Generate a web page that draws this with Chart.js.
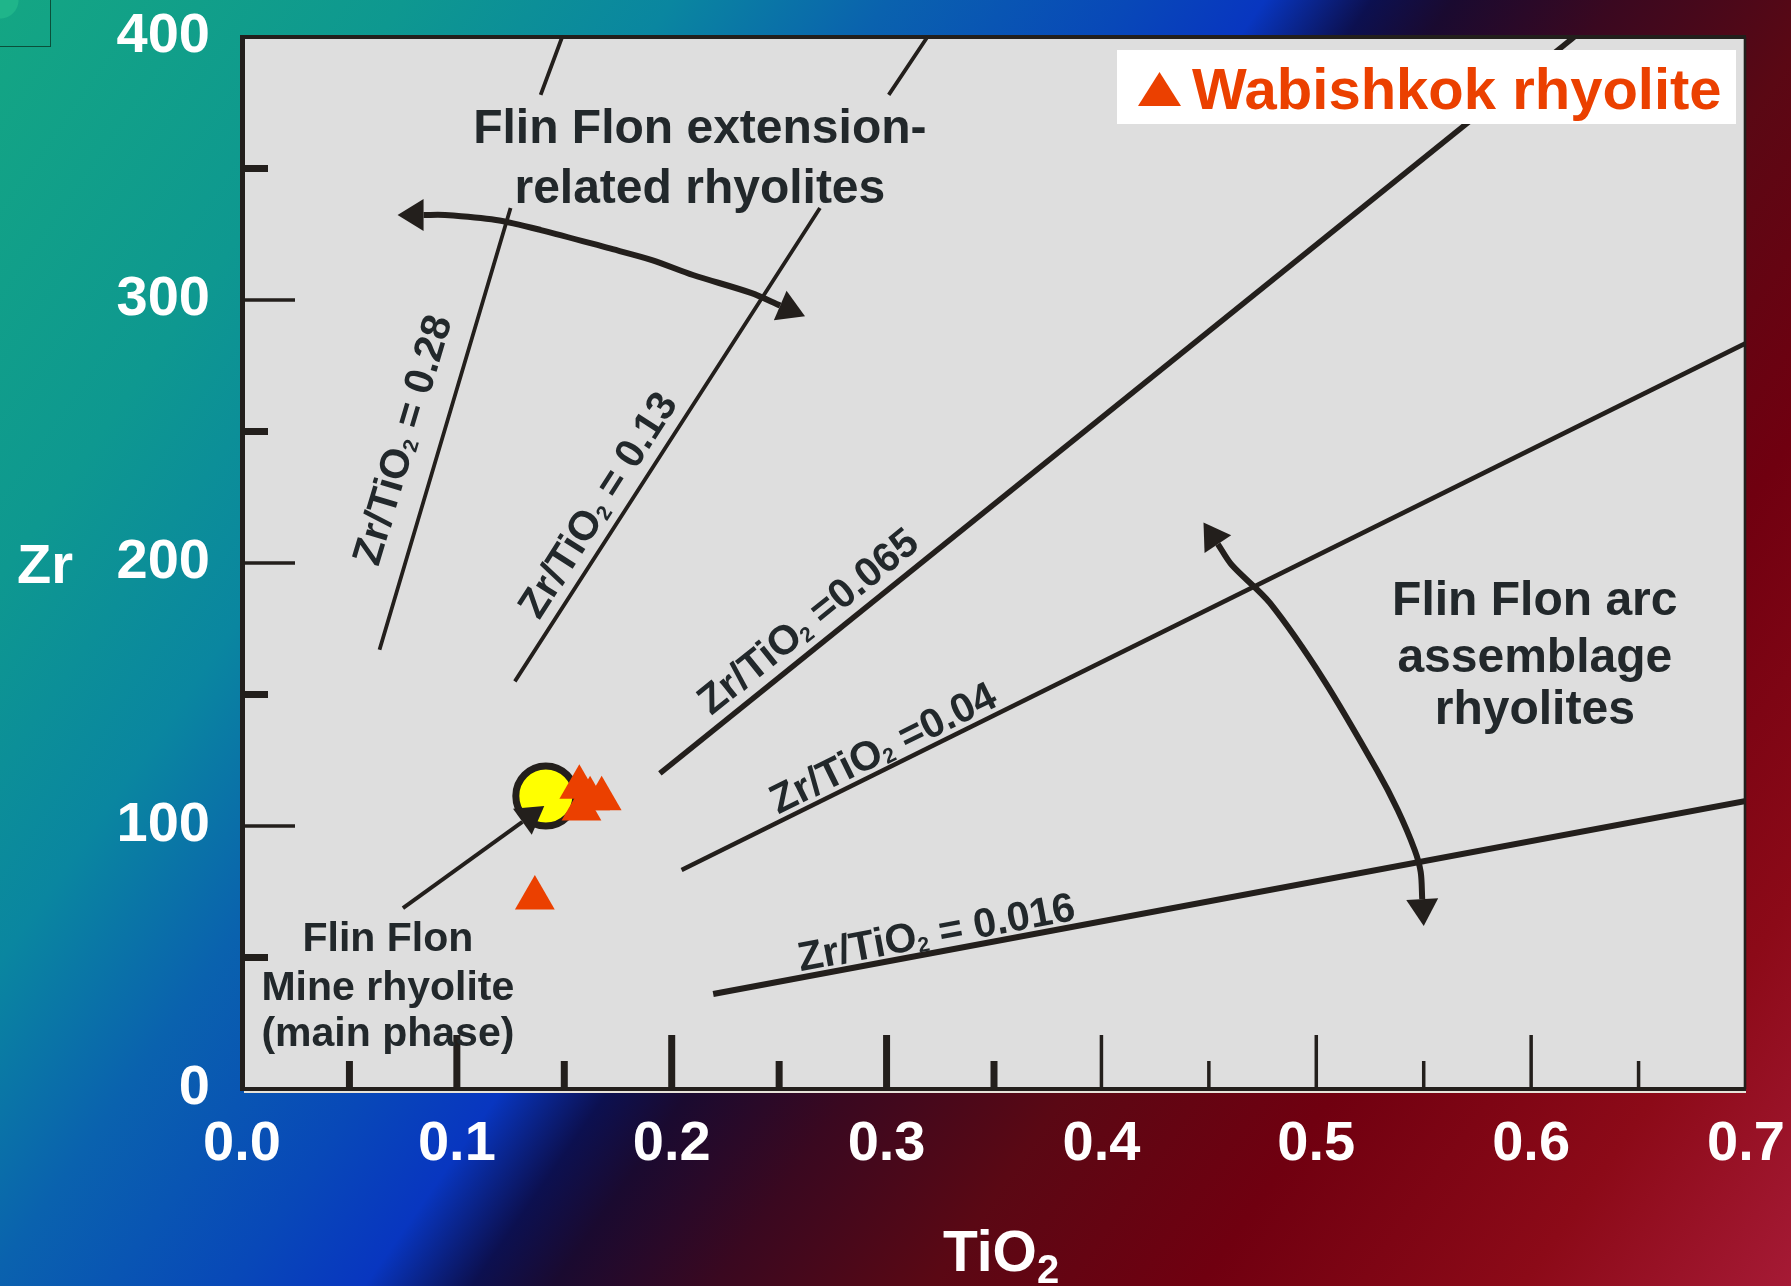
<!DOCTYPE html>
<html>
<head>
<meta charset="utf-8">
<title>Zr vs TiO2 - Wabishkok rhyolite</title>
<script src="https://cdn.jsdelivr.net/npm/chart.js@4.4.1/dist/chart.umd.min.js"></script>
<style>
  html, body { margin: 0; padding: 0; }
  body {
    width: 1791px; height: 1286px; overflow: hidden; position: relative;
    background: linear-gradient(125deg, #14a683 0%, #0e9890 15%, #0a86a0 25%, #0a62ae 33%, #0848b8 42%, #0836c0 47%, #0c1050 51%, #1a0a30 54%, #3a0820 60%, #5a0814 68%, #700010 78%, #8c0a18 90%, #a51a35 100%);
  }
  #corner {
    position: absolute; left: -1px; top: -1px; width: 50px; height: 46px;
    border: 1px solid #0b4f3a;
    background: radial-gradient(circle at 0 0, #1fb58a 0, #1fb58a 18px, transparent 19px);
  }
  canvas { position: absolute; left: 0; top: 0; }
</style>
</head>
<body>
<div id="corner"></div>
<canvas id="c" width="1791" height="1286"></canvas>
<script>
const FONT = '"Liberation Sans", Arial, Helvetica, sans-serif';
const INK = '#231f1c';
const TEXT = '#22282b';

// ticks
const xMajorTicks = [0, 0.1, 0.2, 0.3, 0.4, 0.5, 0.6, 0.7];
const xMinorTicks = [0.05, 0.15, 0.25, 0.35, 0.45, 0.55, 0.65];
const yMajorTicks = [0, 100, 200, 300, 400];
const yMinorTicks = [50, 150, 250, 350];

// Zr/TiO2 reference lines, [TiO2, Zr]; a null Zr leaves a gap under the text
const line028 = [[0.064, 167], [0.125, 335], [0.132, null], [0.139, 378], [0.149, 400]];
const line013 = [[0.127, 155], [0.269, 335], [0.285, null], [0.301, 378], [0.319, 400]];
const line0065 = [[0.1945, 120], [0.62, 400]];
const line004 = [[0.2046, 83.3], [0.7, 283.6]];
const line0016 = [[0.2193, 36.1], [0.7, 109.5]];
const ratioLabels = ['Zr/TiO2 = 0.28', 'Zr/TiO2 = 0.13', 'Zr/TiO2 =0.065', 'Zr/TiO2 =0.04', 'Zr/TiO2 = 0.016'];
const ratioLabelTiO2 = [0.074, 0.165, 0.263, 0.298, 0.323];
const ratioLabelZr = [247, 222.4, 178.3, 130.2, 60.1];

// samples
const wabishkokTiO2 = [0.1363, 0.157, 0.162, 0.1674, 0.158];
const wabishkokZr = [72.6, 114.7, 110.4, 110.4, 106.5];
const mineTiO2 = [0.1414];
const mineZr = [111.4];

// trend arrows (line ends where the arrow head starts)
const extensionArrow = [[0.0845, 332.3], [0.0945, 332.3], [0.1182, 330.4], [0.1391, 326.6], [0.1703, 319.8],
  [0.1908, 315.2], [0.2099, 309.5], [0.2369, 302.7], [0.2505, 297.9]];
const arcArrow = [[0.4542, 207.2], [0.4607, 199.2], [0.4784, 184.8], [0.5035, 155.5], [0.5282, 121.3],
  [0.5379, 106.1], [0.5458, 90.9], [0.5486, 82.5], [0.5493, 72.2]];
const mineArrow = [[0.0749, 68.8], [0.1305, 101.6]];

// annotation blocks: lines, TiO2 centre, Zr baselines
const extensionText = ['Flin Flon extension-', 'related rhyolites'];
const extensionTextTiO2 = 0.2131;
const extensionTextZr = [359.7, 336.9];
const arcText = ['Flin Flon arc', 'assemblage', 'rhyolites'];
const arcTextTiO2 = 0.6017;
const arcTextZr = [180.2, 158.7, 138.8];
const mineText = ['Flin Flon', 'Mine rhyolite', '(main phase)'];
const mineTextTiO2 = 0.0679;
const mineTextZr = [52.6, 33.8, 16.5];

const toPts = arr => arr.map(([x, y]) => ({ x, y }));
const zip = (xs, ys) => xs.map((x, i) => ({ x, y: ys[i] }));

function lineSet(arr, width) {
  return {
    label: 'ratio', data: toPts(arr), showLine: true, spanGaps: false,
    borderColor: INK, borderWidth: width, pointRadius: 0, order: 5
  };
}
function arrowSet(arr, width, arrowAt, tension) {
  return {
    label: 'arrow', data: toPts(arr), showLine: true, tension: tension,
    borderColor: INK, backgroundColor: INK, borderWidth: width, pointRadius: 0,
    borderJoinStyle: 'round', arrowAt: arrowAt, order: 4
  };
}

function subText(ctx, str, x, y, size, subScale, subDrop, center) {
  const k = str.indexOf('TiO2');
  const head = k < 0 ? str : str.slice(0, k + 3);
  const sub = k < 0 ? '' : '2';
  const tail = k < 0 ? '' : str.slice(k + 4);
  const big = `bold ${size}px ${FONT}`;
  const small = `bold ${Math.round(size * subScale)}px ${FONT}`;
  ctx.font = big;
  const w1 = ctx.measureText(head).width, w3 = ctx.measureText(tail).width;
  ctx.font = small;
  const w2 = ctx.measureText(sub).width;
  const sx = center ? x - (w1 + w2 + w3) / 2 : x;
  ctx.textAlign = 'left';
  ctx.textBaseline = 'alphabetic';
  ctx.font = big; ctx.fillText(head, sx, y);
  ctx.font = small; ctx.fillText(sub, sx + w1, y + size * subDrop);
  ctx.font = big; ctx.fillText(tail, sx + w1 + w2, y);
}

function arrowHead(ctx, from, to, len, wid) {
  const a = Math.atan2(to.y - from.y, to.x - from.x);
  ctx.save();
  ctx.translate(to.x, to.y);
  ctx.rotate(a);
  ctx.beginPath();
  ctx.moveTo(len, 0);
  ctx.lineTo(0, wid / 2);
  ctx.lineTo(0, -wid / 2);
  ctx.closePath();
  ctx.fill();
  ctx.restore();
}

// keep the plot frame where the layout padding puts it
function fixAxis(size, horizontal) {
  return s => {
    if (horizontal) s.height = size; else s.width = size;
    s.paddingTop = 0; s.paddingBottom = 0; s.paddingLeft = 0; s.paddingRight = 0;
  };
}

const panel = {
  id: 'panel',
  beforeDraw(chart) {
    const { ctx, chartArea: a } = chart;
    ctx.save();
    ctx.fillStyle = '#dedede';
    ctx.fillRect(a.left, a.top, a.right - a.left, a.bottom - a.top);
    ctx.restore();
  },
  afterDatasetsDraw(chart) {
    const { ctx, chartArea: a, scales: { x, y } } = chart;
    ctx.save();

    // arrow heads
    chart.data.datasets.forEach((ds, i) => {
      if (!ds.arrowAt) return;
      const pts = chart.getDatasetMeta(i).data;
      const n = pts.length;
      ctx.fillStyle = INK;
      if (ds.arrowAt === 'both') arrowHead(ctx, pts[1], pts[0], 26, 32);
      arrowHead(ctx, pts[n - 2], pts[n - 1], 27, 32);
    });

    // inward tick marks
    ctx.strokeStyle = INK;
    const xTick = (v, len) => {
      const px = x.getPixelForValue(v);
      ctx.lineWidth = v < 0.375 ? 7 : 3.5;
      ctx.beginPath(); ctx.moveTo(px, a.bottom); ctx.lineTo(px, a.bottom - len); ctx.stroke();
    };
    xMajorTicks.filter(v => v > 0 && v < 0.7).forEach(v => xTick(v, 54));
    xMinorTicks.forEach(v => xTick(v, 28));
    const yTick = (v, len, w) => {
      const py = y.getPixelForValue(v);
      ctx.lineWidth = w;
      ctx.beginPath(); ctx.moveTo(a.left, py); ctx.lineTo(a.left + len, py); ctx.stroke();
    };
    yMajorTicks.filter(v => v > 0 && v < 400).forEach(v => yTick(v, 53, 3.3));
    yMinorTicks.forEach(v => yTick(v, 26, 7));

    // frame
    ctx.lineWidth = 5;
    ctx.beginPath(); ctx.moveTo(a.left + 0.5, a.top - 2); ctx.lineTo(a.left + 0.5, a.bottom + 2); ctx.stroke();
    ctx.lineWidth = 4;
    ctx.beginPath(); ctx.moveTo(a.left, a.top); ctx.lineTo(a.right, a.top); ctx.stroke();
    ctx.beginPath(); ctx.moveTo(a.left, a.bottom); ctx.lineTo(a.right, a.bottom); ctx.stroke();
    ctx.lineWidth = 2.6;
    ctx.beginPath(); ctx.moveTo(a.right - 1, a.top); ctx.lineTo(a.right - 1, a.bottom); ctx.stroke();
    ctx.strokeStyle = '#e6e2d8';
    ctx.lineWidth = 2;
    ctx.beginPath(); ctx.moveTo(a.left + 2, a.bottom + 3); ctx.lineTo(a.right, a.bottom + 3); ctx.stroke();

    // ratio line labels, rotated along their lines
    const lines = [line028, line013, line0065, line004, line0016];
    ctx.fillStyle = TEXT;
    ratioLabels.forEach((txt, i) => {
      const ln = lines[i];
      const p0 = ln[0], p1 = ln[ln.length - 1];
      const ang = Math.atan2(y.getPixelForValue(p1[1]) - y.getPixelForValue(p0[1]),
                             x.getPixelForValue(p1[0]) - x.getPixelForValue(p0[0]));
      ctx.save();
      ctx.translate(x.getPixelForValue(ratioLabelTiO2[i]), y.getPixelForValue(ratioLabelZr[i]));
      ctx.rotate(ang);
      subText(ctx, txt, 0, 0.36 * 41, 41, 0.5, 0.08, true);
      ctx.restore();
    });

    // text blocks
    const block = (lines, tx, zs, size) => {
      ctx.font = `bold ${size}px ${FONT}`;
      ctx.textAlign = 'center';
      ctx.textBaseline = 'alphabetic';
      lines.forEach((s, i) => ctx.fillText(s, x.getPixelForValue(tx), y.getPixelForValue(zs[i])));
    };
    block(extensionText, extensionTextTiO2, extensionTextZr, 48);
    block(arcText, arcTextTiO2, arcTextZr, 48);
    block(mineText, mineTextTiO2, mineTextZr, 41);

    // legend box
    const lx = a.right - 629, ly = a.top + 13;
    ctx.fillStyle = '#ffffff';
    ctx.fillRect(lx, ly, 619, 74);
    const ds = chart.data.datasets[0];
    ctx.fillStyle = ds.backgroundColor;
    ctx.beginPath();
    ctx.moveTo(lx + 42.5, ly + 22);
    ctx.lineTo(lx + 64, ly + 56);
    ctx.lineTo(lx + 21, ly + 56);
    ctx.closePath();
    ctx.fill();
    ctx.font = `bold 58px ${FONT}`;
    ctx.textAlign = 'left';
    ctx.textBaseline = 'alphabetic';
    ctx.fillText(ds.label, lx + 75, ly + 59);

    // axis titles
    ctx.fillStyle = '#ffffff';
    ctx.font = `bold 56px ${FONT}`;
    ctx.fillText('Zr', 17, y.getPixelForValue(200) + 20);
    subText(ctx, 'TiO2', (a.left + a.right) / 2 - 51, 1271, 57, 0.7, 0.21, false);

    ctx.restore();
  }
};

new Chart(document.getElementById('c'), {
  type: 'scatter',
  data: {
    datasets: [
      {
        label: 'Wabishkok rhyolite', data: zip(wabishkokTiO2, wabishkokZr),
        pointStyle: 'triangle', pointRadius: 23, backgroundColor: '#eb4000', borderWidth: 0, order: 0
      },
      Object.assign(arrowSet(mineArrow, 4, 'end', 0), { order: 1 }),
      {
        label: 'Flin Flon Mine rhyolite (main phase)', data: zip(mineTiO2, mineZr),
        pointRadius: 30, backgroundColor: '#ffff00', borderColor: INK, borderWidth: 7, order: 2
      },
      arrowSet(extensionArrow, 6, 'both', 0.3),
      arrowSet(arcArrow, 6, 'both', 0.3),
      lineSet(line028, 3.8),
      lineSet(line013, 3.8),
      lineSet(line0065, 5.5),
      lineSet(line004, 4.5),
      lineSet(line0016, 6)
    ]
  },
  options: {
    responsive: false,
    animation: false,
    events: [],
    layout: { padding: { top: 37, right: 45, left: 0, bottom: 0 } },
    plugins: { legend: { display: false }, tooltip: { enabled: false } },
    scales: {
      x: {
        type: 'linear', min: 0, max: 0.7,
        afterFit: fixAxis(197, true),
        ticks: {
          stepSize: 0.1, padding: 22, color: '#ffffff', autoSkip: false, maxRotation: 0,
          font: { family: FONT, size: 56, weight: 'bold' },
          callback: v => v.toFixed(1)
        },
        grid: { display: false, drawTicks: false },
        border: { display: false }
      },
      y: {
        min: 0, max: 400,
        afterFit: fixAxis(242, false),
        ticks: {
          stepSize: 100, padding: 32, color: '#ffffff',
          font: { family: FONT, size: 56, weight: 'bold' }
        },
        grid: { display: false, drawTicks: false },
        border: { display: false }
      }
    }
  },
  plugins: [panel]
});
</script>
</body>
</html>
